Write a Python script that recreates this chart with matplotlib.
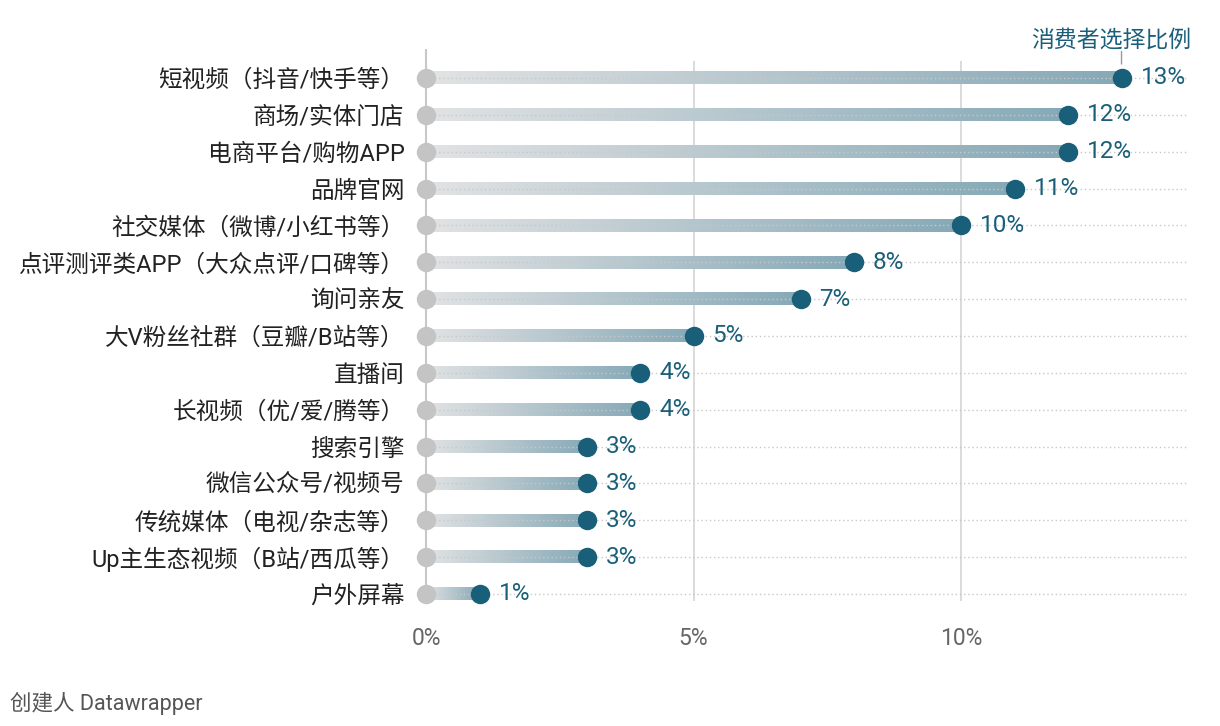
import numpy as np
import matplotlib.pyplot as plt
from matplotlib.colors import LinearSegmentedColormap

plt.rcParams['font.family'] = ['Roboto', 'Noto Sans CJK SC', 'DejaVu Sans']

# données
categories = ['短视频（抖音/快手等）', '商场/实体门店', '电商平台/购物APP', '品牌官网',
              '社交媒体（微博/小红书等）', '点评测评类APP（大众点评/口碑等）', '询问亲友',
              '大V粉丝社群（豆瓣/B站等）', '直播间', '长视频（优/爱/腾等）', '搜索引擎',
              '微信公众号/视频号', '传统媒体（电视/杂志等）', 'Up主生态视频（B站/西瓜等）', '户外屏幕']
values = [13, 12, 12, 11, 10, 8, 7, 5, 4, 4, 3, 3, 3, 3, 1]
xticks = [0, 5, 10]
xticklabels = ['0%', '5%', '10%']
series_name = '消费者选择比例'

teal = '#1a5f79'
cmap = LinearSegmentedColormap.from_list('bar', ['#e2e3e4', '#86a9b7'])

fig = plt.figure(figsize=(12.2, 7.26), dpi=100)
ax = fig.add_axes([410 / 1220, 121 / 726, 780 / 1220, 560 / 726])
ax.set_xlim(-0.3, 14.28)
ax.set_ylim(14.3, -0.895)

grad = np.linspace(0, 1, 256).reshape(1, -1)
for i, v in enumerate(values):
    ax.hlines(i, 0, 14.2, colors='#c8c8c8', linestyles=(0, (1, 2)), lw=1, zorder=3)
    ax.imshow(grad, extent=[0, v, i + 0.17, i - 0.17], cmap=cmap, aspect='auto', zorder=2)
    ax.plot(0, i, 'o', ms=14, color='#c4c4c4', mec='none', zorder=4)
    ax.plot(v, i, 'o', ms=14, color=teal, mec='none', zorder=5)
    ax.annotate(f'{v}%', (v, i), xytext=(19, 0), textcoords='offset pixels',
                va='center', ha='left', fontsize=17.5, color=teal)

# grille verticale
ax.vlines([5, 10], -0.45, 14.2, colors='#d4d4d4', lw=1.2, zorder=1)
ax.vlines(0, -0.8, 14.2, colors='#c8c8c8', lw=1.5, zorder=1)

ax.annotate('', (13, -0.38), xytext=(13, -0.72), textcoords='data',
            arrowprops=dict(arrowstyle='-', color='#999999', lw=1, shrinkA=0, shrinkB=0),
            annotation_clip=False)
ax.text(12.8, -1.03, series_name, ha='center', va='center', fontsize=16.5, color=teal,
        clip_on=False)

ax.set_yticks(range(len(categories)))
ax.set_yticklabels(categories, fontsize=17, color='#222222')
ax.set_xticks(xticks)
ax.set_xticklabels(xticklabels, fontsize=16.5, color='#666666')
ax.tick_params(length=0, axis='y', pad=4)
ax.tick_params(length=0, axis='x', pad=16)
for s in ax.spines.values():
    s.set_visible(False)

fig.text(10 / 1220, 1 - 703 / 726, '创建人 Datawrapper', fontsize=15.5, color='#555555',
         va='center', ha='left')

fig.savefig('out.png', dpi=100, facecolor='white')
